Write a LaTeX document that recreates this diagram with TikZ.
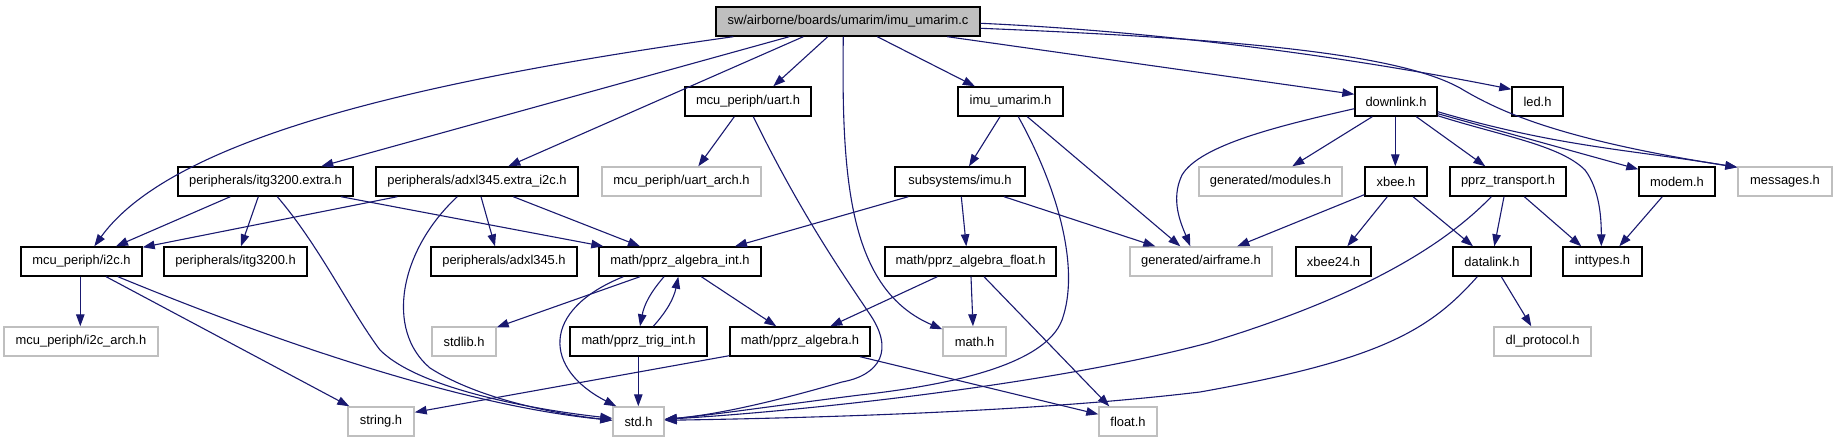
\documentclass[tikz,border=0pt]{standalone}
\usepackage{fontspec}
\setmainfont{Liberation Sans}
\usetikzlibrary{arrows.meta,calc}
\definecolor{edgeblue}{HTML}{191970}
\definecolor{lightgr}{HTML}{BFBFBF}
\begin{document}
\begin{tikzpicture}[x=1pt,y=-1pt,
  nbox/.style={draw=black, line width=1.4pt, minimum height=29pt, inner sep=0pt,
    font=\fontsize{12.9}{15}\selectfont, anchor=center},
  gnbox/.style={nbox, draw=lightgr},
  mnbox/.style={nbox, fill=lightgr},
  dep/.style={draw=edgeblue, line width=1.1pt, -{Triangle[length=12pt,width=8.5pt]}}]
\fill[white] (0,0) rectangle (1837,443);
\useasboundingbox (0,0) rectangle (1837,443);
% row 0
\node[mnbox, minimum width=264pt] (main) at (848,21.5) {sw/airborne/boards/umarim/imu\_umarim.c};
% row 1
\node[nbox, minimum width=126pt] (uart) at (748,101.5) {mcu\_periph/uart.h};
\node[nbox, minimum width=105pt] (imu) at (1010.5,101.5) {imu\_umarim.h};
\node[nbox, minimum width=82pt] (downlink) at (1396,101.5) {downlink.h};
\node[nbox, minimum width=51pt] (led) at (1537.5,101.5) {led.h};
% row 2
\node[nbox, minimum width=175pt] (itgx) at (265.5,181.5) {peripherals/itg3200.extra.h};
\node[nbox, minimum width=202pt] (adxlx) at (477,181.5) {peripherals/adxl345.extra\_i2c.h};
\node[gnbox, minimum width=159pt] (uartarch) at (681.5,181.5) {mcu\_periph/uart\_arch.h};
\node[nbox, minimum width=130pt] (ssimu) at (960,181.5) {subsystems/imu.h};
\node[gnbox, minimum width=143pt] (modules) at (1270.5,181.5) {generated/modules.h};
\node[nbox, minimum width=62pt] (xbee) at (1396,181.5) {xbee.h};
\node[nbox, minimum width=116pt] (pprzt) at (1508,181.5) {pprz\_transport.h};
\node[nbox, minimum width=76pt] (modem) at (1677,181.5) {modem.h};
\node[gnbox, minimum width=94pt] (messages) at (1785,181.5) {messages.h};
% row 3
\node[nbox, minimum width=121pt] (i2c) at (81.5,261.5) {mcu\_periph/i2c.h};
\node[nbox, minimum width=143pt] (itg) at (235.5,261.5) {peripherals/itg3200.h};
\node[nbox, minimum width=146pt] (adxl) at (504,261.5) {peripherals/adxl345.h};
\node[nbox, minimum width=162pt] (algint) at (680,261.5) {math/pprz\_algebra\_int.h};
\node[nbox, minimum width=171pt] (algfloat) at (970.5,261.5) {math/pprz\_algebra\_float.h};
\node[gnbox, minimum width=142pt] (airframe) at (1201,261.5) {generated/airframe.h};
\node[nbox, minimum width=75pt] (xbeetf) at (1333.5,261.5) {xbee24.h};
\node[nbox, minimum width=78pt] (datalink) at (1492,261.5) {datalink.h};
\node[nbox, minimum width=79pt] (inttypes) at (1602.5,261.5) {inttypes.h};
% row 4
\node[gnbox, minimum width=154pt] (i2carch) at (81,341.5) {mcu\_periph/i2c\_arch.h};
\node[gnbox, minimum width=64pt] (stdlib) at (464,341.5) {stdlib.h};
\node[nbox, minimum width=137pt] (trig) at (638.5,341.5) {math/pprz\_trig\_int.h};
\node[nbox, minimum width=140pt] (alg) at (800,341.5) {math/pprz\_algebra.h};
\node[gnbox, minimum width=63pt] (mathh) at (974.5,341.5) {math.h};
\node[gnbox, minimum width=97pt] (dlp) at (1542.5,341.5) {dl\_protocol.h};
% row 5
\node[gnbox, minimum width=66pt] (stringh) at (381,421.5) {string.h};
\node[gnbox, minimum width=51pt] (stdh) at (638.5,421.5) {std.h};
\node[gnbox, minimum width=58pt] (floath) at (1128,421.5) {float.h};

% main
\draw[dep] ($(main.south west)+(18,0)$) .. controls +(-300,42) and +(80,-111) .. ($(i2c.north west)+(74,0)$);
\draw[dep] ($(main.south west)+(74,0)$) -- ($(itgx.north west)+(144,0)$);
\draw[dep] ($(main.south west)+(88,0)$) -- ($(adxlx.north west)+(133,0)$);
\draw[dep] ($(main.south west)+(112.5,0)$) -- ($(uart.north west)+(89,0)$);
\draw[dep] ($(main.south west)+(128,0)$) .. controls +(-2,144) and +(-93,-40) .. ($(mathh.north west)+(0,3)$);
\draw[dep] ($(main.south west)+(162,0)$) -- ($(imu.north west)+(17.6,0)$);
\draw[dep] ($(main.south west)+(232,0)$) -- ($(downlink.north west)+(0,8)$);
\draw[dep] ($(main.north east)+(0,17)$) .. controls +(220,10) and +(-110,-22) .. ($(led.north west)+(0,3)$);
\draw[dep] ($(main.north east)+(0,22)$) .. controls +(270,11) and +(-60,-33) .. (1460,88)
  .. controls +(40,24) and +(-178,-28) .. ($(messages.north west)+(0,1)$);
% uart
\draw[dep] ($(uart.south west)+(50,0)$) -- ($(uartarch.north west)+(97,0)$);
\draw[dep] ($(uart.south west)+(69,0)$) .. controls +(46,94) and +(-29,-43) .. (869,313)
  .. controls +(26,37) and +(38,-7) .. (842,382)
  .. controls +(-62,18) and +(56,-5) .. ($(stdh.north east)+(0,13)$);
% imu_umarim
\draw[dep] ($(imu.south west)+(42.7,0)$) -- ($(ssimu.north west)+(74.7,0)$);
\draw[dep] ($(imu.south west)+(61,0)$) .. controls +(41,74) and +(18,-50) .. (1062,320)
  .. controls +(-17,45) and +(90,-10) .. (860,395)
  .. controls +(-80,10) and +(46,-4) .. ($(stdh.north east)+(0,13)$);
\draw[dep] ($(imu.south west)+(70,0)$) -- ($(airframe.north west)+(51,0)$);
% downlink
\draw[dep] ($(downlink.south west)+(0,-8)$) .. controls +(-75,17) and +(18,-30) .. (1182,175)
  .. controls +(-12,25) and +(-9,-22) .. ($(airframe.north west)+(61,0)$);
\draw[dep] ($(downlink.south west)+(18,0)$) -- ($(modules.north west)+(94,0)$);
\draw[dep] ($(downlink.south west)+(41,0)$) -- ($(xbee.north west)+(31,0)$);
\draw[dep] ($(downlink.south west)+(62,0)$) -- ($(pprzt.north west)+(36,0)$);
\draw[dep] ($(downlink.south east)+(0,-1)$) .. controls +(63,20) and +(-25,-25) .. (1585,170)
  .. controls +(15,20) and +(0,-27) .. ($(inttypes.north west)+(39,0)$);
\draw[dep] ($(downlink.south east)+(0,-3)$) -- ($(modem.north west)+(0,3)$);
\draw[dep] ($(downlink.south east)+(0,-5)$) .. controls +(120,35) and +(-110,-18) .. ($(messages.north west)+(0,1)$);
% itg3200.extra
\draw[dep] ($(itgx.south west)+(53,0)$) -- ($(i2c.north west)+(95.7,0)$);
\draw[dep] ($(itgx.south west)+(81,0)$) -- ($(itg.north west)+(77.7,0)$);
\draw[dep] ($(itgx.south west)+(100,0)$) .. controls +(42,49) and +(-30,-40) .. (380,350)
  .. controls +(40,40) and +(-73,-8) .. ($(stdh.north west)+(0,12)$);
\draw[dep] ($(itgx.south west)+(163.7,0)$) -- ($(algint.north west)+(5,0)$);
% adxl345.extra
\draw[dep] ($(adxlx.south west)+(22,0)$) -- ($(i2c.north east)+(0,1)$);
\draw[dep] ($(adxlx.south west)+(105.7,0)$) -- ($(adxl.north west)+(64.7,0)$);
\draw[dep] ($(adxlx.south west)+(138,0)$) -- ($(algint.north west)+(41.7,0)$);
\draw[dep] ($(adxlx.south west)+(82,0)$) .. controls +(-58,54) and +(-45,-38) .. (430,368)
  .. controls +(50,32) and +(-53,-6) .. ($(stdh.north west)+(0,14)$);
% subsystems/imu
\draw[dep] ($(ssimu.south west)+(14,0)$) -- ($(algint.north west)+(136.7,0)$);
\draw[dep] ($(ssimu.south west)+(67,0)$) -- ($(algfloat.north west)+(82,0)$);
\draw[dep] ($(ssimu.south west)+(109.7,0)$) -- ($(airframe.north west)+(26,0)$);
% xbee
\draw[dep] ($(xbee.south west)+(0,-2)$) -- ($(airframe.north west)+(108,0)$);
\draw[dep] ($(xbee.south west)+(23,0)$) -- ($(xbeetf.north west)+(52,0)$);
\draw[dep] ($(xbee.south west)+(48.7,0)$) -- ($(datalink.north west)+(20.7,0)$);
% pprz_transport
\draw[dep] ($(pprzt.south west)+(54.7,0)$) -- ($(datalink.north west)+(42,0)$);
\draw[dep] ($(pprzt.south west)+(75,0)$) -- ($(inttypes.north west)+(19,0)$);
\draw[dep] ($(pprzt.south west)+(42,0)$) .. controls +(-52,54) and +(142,-43) .. (1208,343)
  .. controls +(-158,42) and +(136,-8) .. ($(stdh.north east)+(0,13)$);
% modem
\draw[dep] ($(modem.south west)+(24,0)$) -- ($(inttypes.north west)+(57,0)$);
% i2c
\draw[dep] ($(i2c.south west)+(60,0)$) -- ($(i2carch.north west)+(77,0)$);
\draw[dep] ($(i2c.south west)+(85.8,0)$) -- ($(stringh.north west)+(2,0)$);
\draw[dep] ($(i2c.south west)+(97.6,0)$) .. controls +(131,54) and +(-163,-16) .. ($(stdh.north west)+(0,14)$);
% pprz_algebra_int
\draw[dep] ($(algint.south west)+(41.7,0)$) -- ($(stdlib.north east)+(0,1)$);
\draw[dep] ($(algint.south west)+(25,0)$) .. controls +(-84,34) and +(-72,-37) .. ($(stdh.north west)+(4,0)$);
\draw[dep] ($(algint.south west)+(65.7,0)$) to[bend right=15] ($(trig.north west)+(70.7,0)$);
\draw[dep] ($(trig.north west)+(84,0)$) to[bend right=15] ($(algint.south west)+(80,0)$);
\draw[dep] ($(algint.south west)+(103,0)$) -- ($(alg.north west)+(47,0)$);
\draw[dep] ($(trig.south west)+(69,0)$) -- ($(stdh.north west)+(26,0)$);
% pprz_algebra_float
\draw[dep] ($(algfloat.south west)+(53,0)$) -- ($(alg.north west)+(101,0)$);
\draw[dep] ($(algfloat.south west)+(86.7,0)$) -- ($(mathh.north west)+(30.7,0)$);
\draw[dep] ($(algfloat.south west)+(99.7,0)$) -- ($(floath.north west)+(11,0)$);
% pprz_algebra
\draw[dep] ($(alg.south west)+(0,-1)$) -- ($(stringh.north east)+(0,6)$);
\draw[dep] ($(alg.south west)+(130.7,0)$) -- ($(floath.north west)+(0,8)$);
% datalink
\draw[dep] ($(datalink.south west)+(49,0)$) -- ($(dlp.north west)+(38,0)$);
\draw[dep] ($(datalink.south west)+(25,0)$) .. controls +(-48,54) and +(180,-32) .. (1200,392)
  .. controls +(-150,18) and +(186,-3) .. ($(stdh.north east)+(0,14)$);
\end{tikzpicture}
\end{document}
